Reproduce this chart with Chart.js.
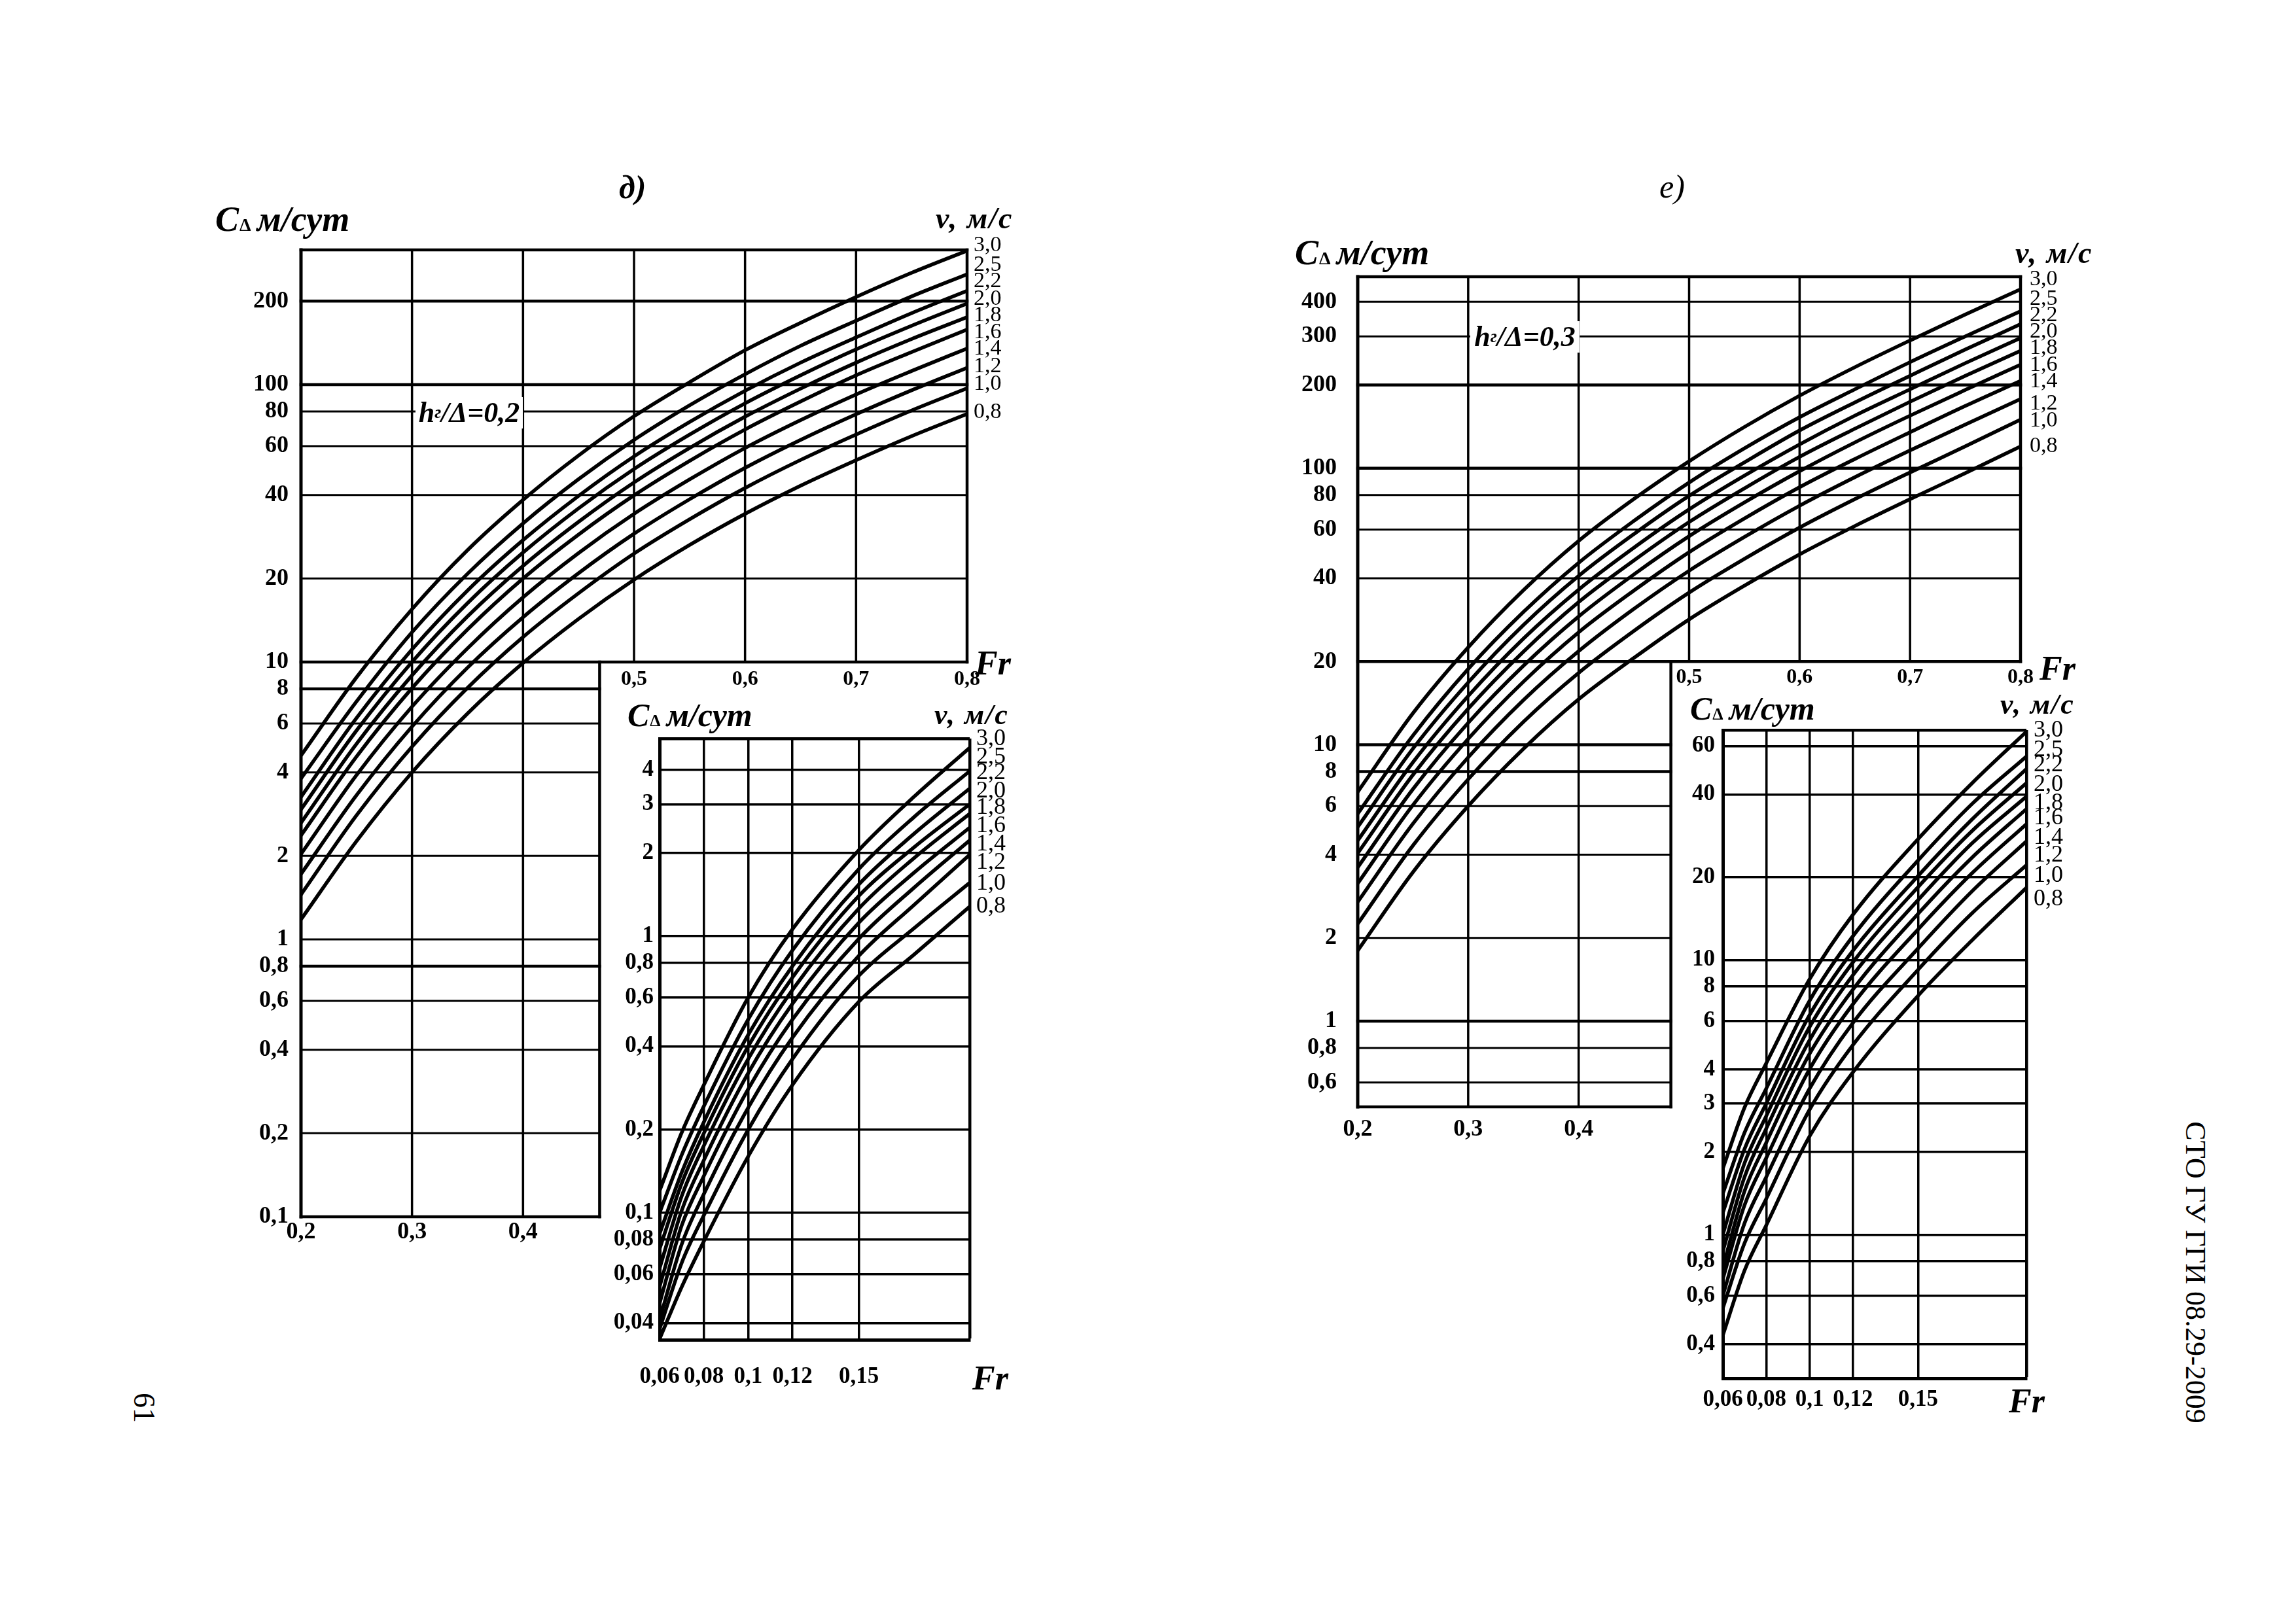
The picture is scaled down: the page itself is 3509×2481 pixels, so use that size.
<!DOCTYPE html>
<html><head><meta charset="utf-8">
<script src="https://cdn.jsdelivr.net/npm/chart.js@4.4.1/dist/chart.umd.min.js"></script>
<style>
html,body{margin:0;padding:0;background:#fff;overflow:hidden;}
#page{position:relative;width:3509px;height:2481px;background:#fff;overflow:hidden;}
.box{position:absolute;}
.box canvas{display:block;}
.t{position:absolute;white-space:nowrap;line-height:1;color:#000;font-family:"Liberation Serif","Times New Roman",serif;}
.dl{font-size:0.52em;font-style:normal;font-weight:bold;margin:0 9px 0 1px;}
.sg{font-size:0.62em;}
.hbox{position:absolute;background:#fff;display:flex;align-items:center;justify-content:center;line-height:1;white-space:nowrap;font-family:"Liberation Serif","Times New Roman",serif;color:#000;}
</style></head><body><div id="page"></div>
<script>
// ---------------- DATA ----------------
const velocities = ['3,0','2,5','2,2','2,0','1,8','1,6','1,4','1,2','1,0','0,8'];

// panel д) main chart, h/Δ = 0,2  (C, m/day vs Fr)
const frMainD = [0.2, 0.25, 0.3, 0.35, 0.4, 0.45, 0.5, 0.55, 0.6, 0.65, 0.7, 0.75, 0.8];
const cMainD = [
  [4.6, 8.8, 15.5, 25.3, 38.4, 55.5, 76.9, 102, 133, 167, 207, 253, 304],
  [3.8, 7.2, 12.8, 20.8, 31.6, 45.6, 63.2, 84.2, 109, 138, 170, 208, 250],
  [3.26, 6.28, 11.1, 18.1, 27.5, 39.7, 55.1, 73.3, 95, 120, 148, 181, 218],
  [2.94, 5.66, 10.0, 16.3, 24.8, 35.8, 49.6, 66.0, 85.6, 108, 134, 163, 196],
  [2.63, 5.07, 8.95, 14.6, 22.2, 32.0, 44.4, 59.1, 76.6, 96.7, 120, 146, 175],
  [2.37, 4.56, 8.05, 13.1, 20.0, 28.8, 39.9, 53.1, 68.9, 86.9, 108, 131, 158],
  [2.03, 3.91, 6.9, 11.2, 17.1, 24.7, 34.2, 45.5, 59.1, 74.5, 92.2, 112, 135],
  [1.72, 3.31, 5.85, 9.54, 14.5, 20.9, 29.0, 38.6, 50.1, 63.2, 78.2, 95.4, 115],
  [1.45, 2.8, 4.95, 8.07, 12.3, 17.7, 24.6, 32.7, 42.4, 53.5, 66.1, 80.7, 97],
  [1.18, 2.26, 4.0, 6.52, 9.92, 14.3, 19.8, 26.4, 34.2, 43.2, 53.4, 65.2, 78.4]
];
// panel д) inset chart
const frInsetD = [0.06, 0.07, 0.08, 0.1, 0.12, 0.15, 0.175, 0.2];
const cInsetD = [
  [0.12, 0.195, 0.29, 0.6, 1.06, 2.05, 3.2, 4.8],
  [0.1, 0.162, 0.243, 0.5, 0.89, 1.75, 2.7, 3.95],
  [0.084, 0.14, 0.213, 0.44, 0.78, 1.54, 2.35, 3.42],
  [0.074, 0.128, 0.194, 0.4, 0.71, 1.4, 2.1, 3.0],
  [0.063, 0.115, 0.175, 0.36, 0.64, 1.26, 1.92, 2.77],
  [0.054, 0.102, 0.155, 0.32, 0.57, 1.12, 1.7, 2.47],
  [0.047, 0.09, 0.136, 0.28, 0.5, 0.98, 1.5, 2.22],
  [0.041, 0.077, 0.117, 0.24, 0.43, 0.85, 1.3, 1.97],
  [0.038, 0.066, 0.098, 0.2, 0.36, 0.72, 1.07, 1.56],
  [0.035, 0.054, 0.079, 0.16, 0.29, 0.58, 0.86, 1.28]
];
// panel е) main chart, h/Δ = 0,3
const frMainE = [0.2, 0.25, 0.3, 0.35, 0.4, 0.45, 0.5, 0.55, 0.6, 0.65, 0.7, 0.75, 0.8];
const cMainE = [
  [6.75, 13.0, 22.5, 36.2, 54.6, 77.4, 106, 141, 183, 232, 290, 360, 444],
  [5.63, 10.8, 18.8, 30.2, 45.5, 64.5, 88.8, 118, 153, 193, 242, 300, 370],
  [5.04, 9.68, 16.8, 27.1, 40.8, 57.8, 79.5, 105, 137, 173, 216, 269, 332],
  [4.5, 8.64, 15.0, 24.2, 36.4, 51.6, 71.0, 94.0, 122, 155, 193, 240, 296],
  [4.05, 7.78, 13.5, 21.7, 32.8, 46.4, 63.9, 84.6, 110, 139, 174, 216, 266],
  [3.6, 6.91, 12.0, 19.3, 29.1, 41.3, 56.8, 75.2, 97.6, 124, 155, 192, 237],
  [3.15, 6.05, 10.5, 16.9, 25.5, 36.1, 49.7, 65.8, 85.4, 108, 135, 168, 207],
  [2.7, 5.18, 9.0, 14.5, 21.8, 31.0, 42.6, 56.4, 73.2, 92.8, 116, 144, 178],
  [2.25, 4.32, 7.5, 12.1, 18.2, 25.8, 35.5, 47.0, 61.0, 77.3, 96.6, 120, 150],
  [1.8, 3.46, 6.0, 9.66, 14.6, 20.6, 28.4, 37.6, 48.8, 61.8, 77.3, 96, 120]
];
// panel е) inset chart
const frInsetE = [0.06, 0.07, 0.08, 0.1, 0.12, 0.15, 0.175, 0.2];
const cInsetE = [
  [1.74, 2.9, 4.2, 8.5, 14.6, 27.5, 44, 67.7],
  [1.41, 2.35, 3.4, 7.1, 12.2, 23, 37, 55],
  [1.2, 2.05, 3.0, 6.3, 10.8, 20.2, 32.5, 49.5],
  [1.0, 1.82, 2.7, 5.7, 9.8, 18.4, 29.5, 44],
  [0.87, 1.62, 2.43, 5.1, 8.8, 16.5, 26.6, 39.3],
  [0.76, 1.44, 2.16, 4.55, 7.8, 14.7, 23.6, 35.4],
  [0.69, 1.28, 1.9, 4.0, 6.9, 12.9, 20.7, 31.2],
  [0.6, 1.1, 1.62, 3.4, 5.9, 11.0, 17.8, 27],
  [0.54, 0.93, 1.35, 2.85, 4.9, 9.2, 14.8, 22.1],
  [0.43, 0.74, 1.08, 2.28, 3.9, 7.4, 11.8, 18.3]
];

// tick labels
const yTicksMainD = [200, 100, 80, 60, 40, 20, 10, 8, 6, 4, 2, 1, 0.8, 0.6, 0.4, 0.2, 0.1];
const yTicksMainE = [400, 300, 200, 100, 80, 60, 40, 20, 10, 8, 6, 4, 2, 1, 0.8, 0.6];
const xTicksMainLow = [0.2, 0.3, 0.4];
const xTicksMainHigh = [0.5, 0.6, 0.7, 0.8];
const yTicksInsetD = [4, 3, 2, 1, 0.8, 0.6, 0.4, 0.2, 0.1, 0.08, 0.06, 0.04];
const yTicksInsetE = [60, 40, 20, 10, 8, 6, 4, 3, 2, 1, 0.8, 0.6, 0.4];
const xTicksInset = [0.06, 0.08, 0.1, 0.12, 0.15];

// ---------------- RENDERING ----------------
Chart.defaults.font.family = '"Liberation Serif", "Times New Roman", serif';
Chart.defaults.color = '#000';
const page = document.getElementById('page');
const fmt = v => String(v).replace('.', ',');
const tickFont = size => ({family: '"Liberation Serif", serif', size: size, weight: 'bold', lineHeight: 1.2});

function addCanvas(b) {
  const d = document.createElement('div');
  d.className = 'box';
  d.style.left = b.x + 'px'; d.style.top = b.y + 'px';
  d.style.width = b.w + 'px'; d.style.height = b.h + 'px';
  const cv = document.createElement('canvas');
  cv.width = b.w; cv.height = b.h;
  cv.style.width = b.w + 'px'; cv.style.height = b.h + 'px';
  d.appendChild(cv); page.appendChild(d);
  return cv;
}

function curveSets(fr, curves, width) {
  return curves.map((row, i) => ({
    label: 'v = ' + velocities[i] + ' м/с',
    data: fr.map((x, j) => ({x: x, y: row[j]})),
    showLine: true, borderColor: '#000', borderWidth: width,
    pointRadius: 0, pointHoverRadius: 0, fill: false,
    cubicInterpolationMode: 'monotone', xAxisID: 'x', yAxisID: 'y'
  }));
}

function segGridPlugin(segs) {
  return {
    id: 'segGrid',
    beforeDatasetsDraw(chart) {
      const ctx = chart.ctx, xs = chart.scales.x, ys = chart.scales.y;
      ctx.save();
      ctx.strokeStyle = '#000';
      ctx.lineCap = 'square';
      for (const s of segs) {
        ctx.lineWidth = s.w;
        ctx.beginPath();
        if (s.y !== undefined) {
          const py = ys.getPixelForValue(s.y);
          ctx.moveTo(xs.getPixelForValue(s.x0), py);
          ctx.lineTo(xs.getPixelForValue(s.x1), py);
        } else {
          const px = xs.getPixelForValue(s.x);
          ctx.moveTo(px, ys.getPixelForValue(s.y0));
          ctx.lineTo(px, ys.getPixelForValue(s.y1));
        }
        ctx.stroke();
      }
      ctx.restore();
    }
  };
}

function mainSegments(c) {
  const s = [];
  const wOf = v => (c.heavy.includes(v) ? 4.5 : 3);
  c.yTicks.filter(v => v > c.split && v < c.yMax).forEach(v => s.push({y: v, x0: c.xMin, x1: c.xMax, w: wOf(v)}));
  s.push({y: c.split, x0: c.xMin, x1: c.xMax, w: 4.5});
  c.yTicks.filter(v => v < c.split && v > c.yMin).forEach(v => s.push({y: v, x0: c.xMin, x1: c.edge, w: wOf(v)}));
  s.push({y: c.yMax, x0: c.xMin, x1: c.xMax, w: 4.5});
  s.push({y: c.yMin, x0: c.xMin, x1: c.edge, w: 4.5});
  xTicksMainLow.filter(v => v > c.xMin).forEach(v => s.push({x: v, y0: c.yMin, y1: c.yMax, w: 3.5}));
  xTicksMainHigh.filter(v => v < c.xMax).forEach(v => s.push({x: v, y0: c.split, y1: c.yMax, w: 3.5}));
  s.push({x: c.xMax, y0: c.split, y1: c.yMax, w: 4.5});
  s.push({x: c.xMin, y0: c.yMin, y1: c.yMax, w: 5});
  s.push({x: c.edge, y0: c.yMin, y1: c.split, w: 4.5});
  return s;
}

function makeMain(c) {
  const b = c.box, a = c.area;
  const cv = addCanvas(b);
  new Chart(cv, {
    type: 'scatter',
    data: {datasets: curveSets(c.fr, c.curves, 5.5)},
    options: {
      responsive: false, animation: false, devicePixelRatio: 1,
      layout: {autoPadding: false, padding: {left: 0, top: a.t - b.y, right: (b.x + b.w) - a.r, bottom: 0}},
      plugins: {legend: {display: false}, tooltip: {enabled: false}},
      scales: {
        x: {type: 'linear', position: 'bottom', min: c.xMin, max: c.xMax,
          afterFit: s => { s.height = (b.y + b.h) - a.b; },
          afterBuildTicks: ax => { ax.ticks = xTicksMainLow.map(v => ({value: v})); },
          grid: {display: false, drawTicks: false}, border: {display: false},
          ticks: {autoSkip: false, maxRotation: 0, padding: c.xPad, font: tickFont(36), color: '#000', callback: v => fmt(v)}},
        x2: {type: 'linear', axis: 'x', position: {y: c.split}, min: c.xMin, max: c.xMax,
          afterBuildTicks: ax => { ax.ticks = xTicksMainHigh.map(v => ({value: v})); },
          grid: {display: false, drawTicks: false}, border: {display: false},
          ticks: {autoSkip: false, maxRotation: 0, padding: c.x2Pad, font: tickFont(32), color: '#000', callback: v => fmt(v)}},
        y: {type: 'logarithmic', position: 'left', min: c.yMin, max: c.yMax,
          afterFit: s => { s.width = a.l - b.x; },
          afterBuildTicks: ax => { ax.ticks = c.yTicks.map(v => ({value: v})); },
          grid: {display: false, drawTicks: false}, border: {display: false},
          ticks: {autoSkip: false, padding: c.yPad, font: tickFont(36), color: '#000', callback: v => fmt(v)}}
      }
    },
    plugins: [segGridPlugin(mainSegments(c))]
  });
}

function makeInset(c) {
  const b = c.box, a = c.area;
  const cv = addCanvas(b);
  const xAll = xTicksInset.concat([c.xMax]);
  const yAll = c.yTicks.concat([c.yMax]);
  new Chart(cv, {
    type: 'scatter',
    data: {datasets: curveSets(c.fr, c.curves, 5.5)},
    options: {
      responsive: false, animation: false, devicePixelRatio: 1,
      layout: {autoPadding: false, padding: {left: 0, top: a.t - b.y, right: (b.x + b.w) - a.r, bottom: 0}},
      plugins: {legend: {display: false}, tooltip: {enabled: false}},
      scales: {
        x: {type: 'linear', position: 'bottom', min: c.xMin, max: c.xMax,
          afterFit: s => { s.height = (b.y + b.h) - a.b; },
          afterBuildTicks: ax => { ax.ticks = xAll.map(v => ({value: v})); },
          grid: {color: '#000', drawTicks: false, lineWidth: ctx => (ctx.tick && ctx.tick.value === c.xMax) ? 4.5 : 3.5},
          border: {display: true, color: '#000', width: 5},
          ticks: {autoSkip: false, maxRotation: 0, padding: c.xPad, font: tickFont(35), color: '#000',
            callback: v => xTicksInset.includes(v) ? fmt(v) : ''}},
        y: {type: 'logarithmic', position: 'left', min: c.yMin, max: c.yMax,
          afterFit: s => { s.width = a.l - b.x; },
          afterBuildTicks: ax => { ax.ticks = yAll.map(v => ({value: v})); },
          grid: {color: '#000', drawTicks: false, lineWidth: ctx => (ctx.tick && ctx.tick.value === c.yMax) ? 4.5 : 3.5},
          border: {display: true, color: '#000', width: 5},
          ticks: {autoSkip: false, padding: c.yPad, font: tickFont(35), color: '#000',
            callback: v => c.yTicks.includes(v) ? fmt(v) : ''}}
      }
    }
  });
}

makeMain({fr: frMainD, curves: cMainD, yTicks: yTicksMainD, heavy: [200, 100, 8, 0.8],
  xMin: 0.2, xMax: 0.8, yMin: 0.1, yMax: 306, split: 10, edge: 0.469,
  box: {x: 280, y: 300, w: 1320, h: 1660}, area: {l: 460, t: 382, r: 1478, b: 1860},
  xPad: 2, x2Pad: 8, yPad: 19});
makeMain({fr: frMainE, curves: cMainE, yTicks: yTicksMainE, heavy: [100, 200, 10, 8, 1],
  xMin: 0.2, xMax: 0.8, yMin: 0.49, yMax: 493, split: 20, edge: 0.4835,
  box: {x: 1880, y: 340, w: 1320, h: 1440}, area: {l: 2075, t: 423, r: 3088, b: 1692},
  xPad: 13, x2Pad: 5, yPad: 32});
makeInset({fr: frInsetD, curves: cInsetD, yTicks: yTicksInsetD,
  xMin: 0.06, xMax: 0.2, yMin: 0.0348, yMax: 5.18,
  box: {x: 900, y: 1000, w: 660, h: 1180}, area: {l: 1008, t: 1129, r: 1482, b: 2048},
  xPad: 36, yPad: 9});
makeInset({fr: frInsetE, curves: cInsetE, yTicks: yTicksInsetE,
  xMin: 0.06, xMax: 0.2, yMin: 0.303, yMax: 68.6,
  box: {x: 2540, y: 1000, w: 660, h: 1200}, area: {l: 2633, t: 1116, r: 3097, b: 2107},
  xPad: 12, yPad: 12});

// ---------------- TEXT ----------------
function addText(t) {
  const d = document.createElement('div');
  d.className = 't';
  d.innerHTML = t.html;
  d.style.fontSize = t.size + 'px';
  d.style.fontWeight = t.bold ? 'bold' : 'normal';
  d.style.fontStyle = t.italic ? 'italic' : 'normal';
  if (t.ls) d.style.letterSpacing = t.ls + 'px';
  if (t.rot) {
    d.style.left = t.x + 'px'; d.style.top = t.y + 'px';
    d.style.transform = 'translate(-50%,-50%) rotate(90deg)';
  } else {
    d.style.left = t.x + 'px';
    d.style.top = (t.base - 0.84 * t.size) + 'px';
  }
  page.appendChild(d);
}
const unitC = 'C<span class="dl">Δ</span>м/сут';
const unitV = 'v, м/с';
const texts = [
  {html: 'д)', x: 946, base: 303, size: 50, italic: true, bold: true},
  {html: 'е)', x: 2536, base: 302, size: 50, italic: true},
  {html: unitC, x: 329, base: 353, size: 54, bold: true, italic: true},
  {html: unitC, x: 1979, base: 404, size: 54, bold: true, italic: true},
  {html: unitC, x: 959, base: 1110, size: 50, bold: true, italic: true},
  {html: unitC, x: 2583, base: 1100, size: 50, bold: true, italic: true},
  {html: unitV, x: 1430, base: 350, size: 46, bold: true, italic: true, ls: 2},
  {html: unitV, x: 3080, base: 403, size: 46, bold: true, italic: true, ls: 2},
  {html: unitV, x: 1428, base: 1108, size: 44, bold: true, italic: true, ls: 2},
  {html: unitV, x: 3057, base: 1092, size: 44, bold: true, italic: true, ls: 2},
  {html: 'Fr', x: 1490, base: 1032, size: 52, bold: true, italic: true},
  {html: 'Fr', x: 3117, base: 1040, size: 52, bold: true, italic: true},
  {html: 'Fr', x: 1486, base: 2125, size: 52, bold: true, italic: true},
  {html: 'Fr', x: 3070, base: 2160, size: 52, bold: true, italic: true},
  {html: 'СТО ГУ ГГИ 08.29-2009', x: 3355, y: 1945, size: 44, rot: true},
  {html: '61', x: 220, y: 2152, size: 46, rot: true}
];
texts.forEach(addText);

const curveLabelCols = [
  {x: 1488, size: 34, bases: [385, 415, 440, 467, 492, 518, 543, 570, 597, 640]},
  {x: 3102, size: 34, bases: [437, 467, 492, 517, 542, 568, 593, 627, 653, 692]},
  {x: 1492, size: 36, bases: [1139, 1167, 1191, 1219, 1244, 1272, 1300, 1328, 1360, 1395]},
  {x: 3108, size: 36, bases: [1126, 1156, 1179, 1209, 1237, 1260, 1290, 1317, 1348, 1384]}
];
curveLabelCols.forEach(col => col.bases.forEach((bs, i) =>
  addText({html: velocities[i], x: col.x, base: bs, size: col.size})));

function addHBox(h) {
  const d = document.createElement('div');
  d.className = 'hbox';
  d.style.left = h.x + 'px'; d.style.top = h.y + 'px';
  d.style.width = h.w + 'px'; d.style.height = h.h + 'px';
  d.style.fontSize = h.size + 'px';
  d.style.fontStyle = 'italic';
  d.style.fontWeight = h.bold ? 'bold' : 'normal';
  d.innerHTML = h.html;
  page.appendChild(d);
}
addHBox({html: 'h<span class="sg">г</span>/Δ=0,2', x: 635, y: 607, w: 164, h: 48, size: 44, bold: true});
addHBox({html: 'h<span class="sg">г</span>/Δ=0,3', x: 2247, y: 491, w: 167, h: 48, size: 44, bold: true});
</script>
</body></html>
